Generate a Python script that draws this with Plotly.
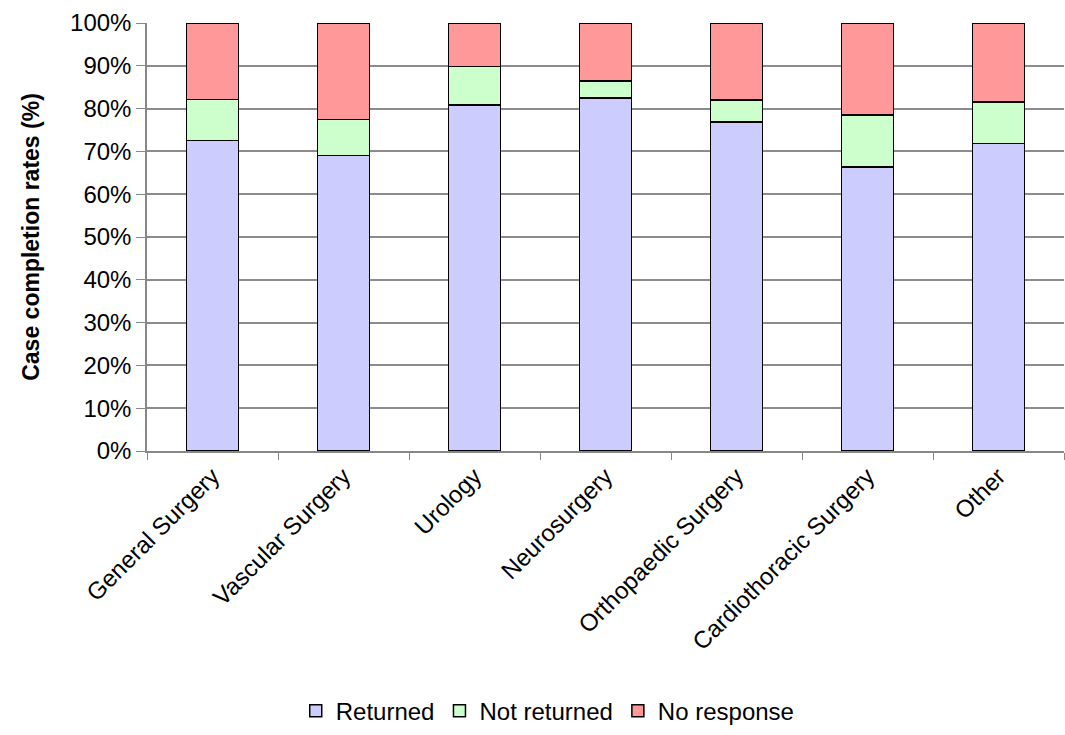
import plotly.graph_objects as go

categories = ["General Surgery", "Vascular Surgery", "Urology", "Neurosurgery",
              "Orthopaedic Surgery", "Cardiothoracic Surgery", "Other"]
returned = [72.6, 69.1, 80.8, 82.5, 76.9, 66.3, 71.8]
not_returned = [9.5, 8.4, 9.0, 3.9, 5.1, 12.2, 9.7]
no_response = [round(100 - r - n, 1) for r, n in zip(returned, not_returned)]
y_ticks = [0, 10, 20, 30, 40, 50, 60, 70, 80, 90, 100]
y_tick_labels = [f"{v}%" for v in y_ticks]

series = [
    ("Returned", returned, "#CCCCFF"),
    ("Not returned", not_returned, "#CCFFCC"),
    ("No response", no_response, "#FF9999"),
]

fig = go.Figure()
for name, vals, color in series:
    fig.add_trace(go.Bar(
        x=categories, y=vals, name=name,
        marker=dict(color=color, line=dict(color="black", width=1.5)),
        width=0.4,
    ))

fig.update_layout(
    barmode="stack",
    width=1065, height=735,
    margin=dict(l=147, r=1, t=23, b=278),
    plot_bgcolor="white", paper_bgcolor="white",
    font=dict(family="Liberation Sans, Arial, sans-serif", size=24, color="black"),
    legend=dict(orientation="h", x=0.437, xanchor="center", y=-0.608, yanchor="middle",
                font=dict(size=24), traceorder="normal", itemwidth=30),
    xaxis=dict(
        tickangle=-45, showgrid=False, showline=True, linecolor="#888888", linewidth=1.5,
        ticks="outside", tickson="boundaries", ticklen=7, tickcolor="#888888",
        tickfont=dict(size=24),
    ),
    yaxis=dict(
        range=[0, 100], tickvals=y_ticks, ticktext=y_tick_labels,
        showgrid=True, gridcolor="#8c8c8c", gridwidth=1.5,
        showline=True, linecolor="#888888", linewidth=1.5,
        ticks="outside", ticklen=9, tickcolor="#888888",
        title=dict(text="<b>Case completion rates (%)</b>", font=dict(size=23), standoff=24),
        tickfont=dict(size=24),
    ),
)

fig.write_html("out.html", config={"displayModeBar": False},
               post_script="document.body.style.margin='0';")
